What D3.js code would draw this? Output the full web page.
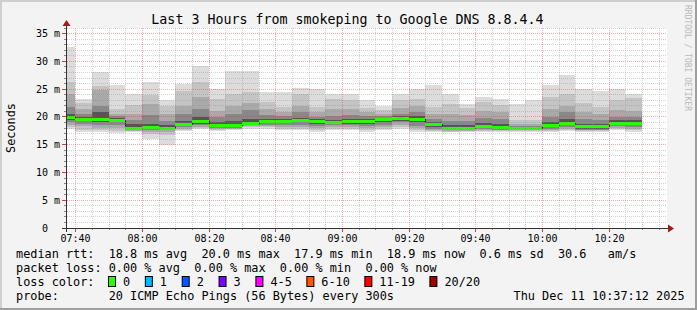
<!DOCTYPE html>
<html>
<head>
<meta charset="utf-8">
<script src="https://cdn.jsdelivr.net/npm/d3@7"></script>
<style>
  body { margin: 0; background: #f3f3f3; }
  svg text { font-family: "DejaVu Sans Mono", monospace; white-space: pre; }
</style>
</head>
<body>
<svg id="chart" width="697" height="310"></svg>
<script>
// 5 minute slots (start time of each step)
const slotStart = ["07:35","07:40","07:45","07:50","07:55","08:00","08:05","08:10","08:15","08:20",
  "08:25","08:30","08:35","08:40","08:45","08:50","08:55","09:00","09:05","09:10",
  "09:15","09:20","09:25","09:30","09:35","09:40","09:45","09:50","09:55","10:00",
  "10:05","10:10","10:15","10:20","10:25"];

// median rtt (ms)
const medianMs = [20.0,19.56,19.6,19.44,18.0,18.1,18.0,18.66,19.2,18.54,18.54,18.96,19.2,19.26,19.44,19.26,19.14,19.26,19.32,19.56,
  19.8,19.62,18.78,17.94,18.0,18.3,18.18,17.94,17.94,18.54,18.96,18.3,18.36,18.96,18.92];

// smoke: sorted ping levels, outermost (1) to innermost (5)
const pingHi1 = [32.6,23.2,28.0,25.7,24.2,26.2,23.0,26.0,29.2,25.1,28.3,28.3,24.5,24.5,25.2,25.0,24.1,24.1,23.1,22.0,24.1,25.0,25.7,24.1,22.3,23.6,23.2,22.3,23.0,25.7,27.5,25.1,24.7,25.0,24.2];
const pingHi2 = [26.3,22.5,25.6,21.5,22.1,24.0,22.0,24.6,26.2,23.3,24.2,24.5,22.7,21.8,24.2,21.8,23.3,23.0,21.6,21.2,23.0,23.3,21.8,22.4,21.6,22.7,22.1,19.4,19.5,23.6,24.2,22.5,21.8,23.0,23.4];
const pingHi3 = [24.2,21.4,24.8,20.6,20.5,22.3,20.5,22.0,23.5,21.0,22.0,22.5,21.5,20.9,22.0,20.8,21.5,21.5,20.8,20.6,21.6,22.0,20.5,20.5,20.3,21.0,20.8,18.8,18.8,21.5,22.0,20.8,20.6,21.3,21.0];
const pingHi4 = [21.8,20.5,22.0,20.1,19.5,20.3,19.3,20.5,21.5,20.0,20.5,21.3,20.3,20.1,20.8,20.0,20.2,20.3,20.1,20.1,20.6,20.8,19.6,19.3,19.2,19.8,19.6,18.4,18.4,20.0,20.8,19.6,19.5,20.0,20.0];
const pingHi5 = [20.5,19.9,20.9,19.8,18.7,18.8,18.5,19.2,20.0,19.0,19.2,19.7,19.6,19.6,19.8,19.6,19.5,19.7,19.7,19.8,20.2,20.1,19.1,18.5,18.5,18.9,18.8,18.1,18.1,19.0,19.6,18.8,18.8,19.4,19.4];
const pingLo5 = [19.5,19.2,19.0,19.0,17.8,17.8,17.8,18.3,18.8,18.2,18.2,18.7,18.9,18.9,19.0,18.8,18.8,18.8,18.8,19.0,19.3,19.0,18.1,17.7,17.8,18.0,17.9,17.8,17.8,18.1,18.5,17.9,17.9,18.6,18.6];
const pingLo4 = [19.0,18.8,18.6,18.5,17.6,17.6,17.6,18.1,18.5,18.0,18.0,18.5,18.6,18.5,18.6,18.4,18.5,18.5,18.4,18.6,19.0,18.4,17.8,17.6,17.7,17.8,17.7,17.7,17.7,17.9,18.2,17.7,17.7,18.3,18.2];
const pingLo3 = [18.5,18.3,18.0,18.0,17.5,17.3,17.3,17.9,18.2,17.9,17.9,18.3,18.3,18.2,18.2,18.0,18.2,18.2,18.0,18.2,18.6,18.0,17.6,17.5,17.5,17.6,17.6,17.6,17.6,17.7,17.9,17.6,17.6,18.0,17.9];
const pingLo2 = [18.1,17.6,17.6,17.5,17.4,17.0,16.8,17.7,18.0,17.7,17.8,18.1,18.1,17.9,17.9,17.6,17.9,17.9,17.6,17.9,18.2,17.6,17.4,17.3,17.4,17.5,17.4,17.4,17.4,17.5,17.7,17.4,17.4,17.8,17.6];
const pingLo1 = [17.8,17.2,17.3,17.1,17.3,16.0,14.9,17.5,17.8,17.5,17.6,17.9,17.9,17.6,17.6,17.3,17.6,17.6,17.3,17.6,17.9,17.3,17.2,17.2,17.3,17.3,17.3,17.3,17.3,17.3,17.5,17.3,17.3,17.6,17.3];

const xTickLabels = ["07:40","08:00","08:20","08:40","09:00","09:20","09:40","10:00","10:20"];
const yTickValues = [0,5,10,15,20,25,30,35];
const yTickLabels = ["0  ","5 m","10 m","15 m","20 m","25 m","30 m","35 m"];

const lossLabels = ["0","1","2","3","4-5","6-10","11-19","20/20"];
const lossColors = ["#26ff00","#00b8ff","#0059ff","#7e00ff","#ff00ff","#ff5500","#ff0000","#a10000"];

const titleText = "Last 3 Hours from smokeping to Google DNS 8.8.4.4";
const rttRow = "median rtt:  18.8 ms avg  20.0 ms max  17.9 ms min  18.9 ms now  0.6 ms sd  30.6   am/s";
const lossRow = "packet loss: 0.00 % avg  0.00 % max  0.00 % min  0.00 % now";
const probeRow = "probe:       20 ICMP Echo Pings (56 Bytes) every 300s";
const stampText = "Thu Dec 11 10:37:12 2025";

const W = 697, H = 310;
const svg = d3.select("#chart");
const parseHM = d3.timeParse("%H:%M");
const parseHMS = d3.timeParse("%H:%M:%S");

const x = d3.scaleTime().domain([parseHMS("07:37:12"), parseHMS("10:37:12")]).range([66, 666]);
const y = d3.scaleLinear().domain([0, 36]).range([228, 28]);
const px = v => Math.round(x(v));
const py = v => Math.round(y(v));

// frame
svg.append("rect").attr("width", W).attr("height", H).attr("fill", "#f3f3f3");
svg.append("rect").attr("x", 0).attr("y", 0).attr("width", W).attr("height", 2).attr("fill", "#cfcfcf");
svg.append("rect").attr("x", 0).attr("y", 0).attr("width", 2).attr("height", H).attr("fill", "#cfcfcf");
svg.append("rect").attr("x", 0).attr("y", H - 2).attr("width", W).attr("height", 2).attr("fill", "#9e9e9e");
svg.append("rect").attr("x", W - 2).attr("y", 0).attr("width", 2).attr("height", H).attr("fill", "#9e9e9e");

// canvas
svg.append("rect").attr("x", 66).attr("y", 28).attr("width", 601).attr("height", 200).attr("fill", "#ffffff");

svg.append("clipPath").attr("id", "plot").append("rect")
  .attr("x", 67).attr("y", 28).attr("width", 600).attr("height", 200);

const slots = slotStart.map(parseHM);
const slotEnd = slots.map(d => d3.timeMinute.offset(d, 5));

// smoke bands, outermost first
const bands = [
  {hi: pingHi1, lo: pingLo1, color: "#dcdcdc"},
  {hi: pingHi2, lo: pingLo2, color: "#c4c4c4"},
  {hi: pingHi3, lo: pingLo3, color: "#a9a9a9"},
  {hi: pingHi4, lo: pingLo4, color: "#888888"},
  {hi: pingHi5, lo: pingLo5, color: "#555555"}
];
const plot = svg.append("g").attr("clip-path", "url(#plot)").attr("shape-rendering", "crispEdges");
bands.forEach((b, j) => {
  plot.selectAll("rect.band" + j)
    .data(slots)
    .enter().append("rect")
      .attr("class", "band" + j)
      .attr("x", (d, i) => px(d))
      .attr("width", (d, i) => px(slotEnd[i]) - px(d))
      .attr("y", (d, i) => py(b.hi[i]))
      .attr("height", (d, i) => py(b.lo[i]) - py(b.hi[i]))
      .attr("fill", b.color);
});

// median: dark staircase then green loss colour
const stepPts = [];
slots.forEach((d, i) => {
  stepPts.push([px(d), py(medianMs[i]) + 0.5]);
  stepPts.push([px(slotEnd[i]), py(medianMs[i]) + 0.5]);
});
plot.append("path")
  .attr("d", d3.line()(stepPts))
  .attr("fill", "none")
  .attr("stroke", "#202020")
  .attr("stroke-width", 1);
plot.selectAll("rect.median")
  .data(slots)
  .enter().append("rect")
    .attr("class", "median")
    .attr("x", (d, i) => px(d))
    .attr("width", (d, i) => px(slotEnd[i]) - px(d))
    .attr("y", (d, i) => py(medianMs[i]) - 1)
    .attr("height", 3)
    .attr("fill", lossColors[0]);

// grid on top
const grid = svg.append("g");
const minorC = "rgba(143,143,143,0.4)", majorC = "rgba(222,48,48,0.4)";
const vTimes = d3.timeMinute.every(5).range(x.domain()[0], x.domain()[1]);
vTimes.forEach(t => {
  const major = t.getMinutes() % 20 === 0;
  const gx = px(t) + 0.5;
  grid.append("line").attr("x1", gx).attr("x2", gx).attr("y1", 28).attr("y2", 228)
    .attr("stroke", major ? majorC : minorC).attr("stroke-dasharray", "1,1");
  grid.append("line").attr("x1", gx).attr("x2", gx).attr("y1", 228).attr("y2", major ? 232 : 230)
    .attr("stroke", major ? "#d04040" : "#888");
});
d3.range(1, 37).forEach(v => {
  const major = v % 5 === 0;
  const gy = Math.floor(y(v)) + 0.5;
  grid.append("line").attr("x1", 67).attr("x2", 667).attr("y1", gy).attr("y2", gy)
    .attr("stroke", major ? majorC : minorC).attr("stroke-dasharray", "1,1");
  grid.append("line").attr("x1", major ? 62 : 64).attr("x2", 66).attr("y1", gy).attr("y2", gy)
    .attr("stroke", major ? "#d04040" : "#888");
});

// axes lines + arrows
svg.append("line").attr("x1", 62).attr("x2", 669).attr("y1", 228.5).attr("y2", 228.5).attr("stroke", "#333");
svg.append("line").attr("x1", 66.5).attr("x2", 66.5).attr("y1", 232).attr("y2", 24).attr("stroke", "#333");
svg.append("path").attr("d", "M668,224.5L674,228.5L668,232.5Z").attr("fill", "#9b1c1c");
svg.append("path").attr("d", "M62.5,26L66.5,20L70.5,26Z").attr("fill", "#9b1c1c");

// tick labels through d3 axes
const xTickTimes = xTickLabels.map(parseHM);
const xAxis = d3.axisBottom(x).tickValues(xTickTimes).tickFormat((d, i) => xTickLabels[i]).tickSize(0).tickPadding(7);
const gx = svg.append("g").attr("transform", "translate(0,228)").call(xAxis);
const yAxis = d3.axisLeft(y).tickValues(yTickValues).tickFormat((d, i) => yTickLabels[i]).tickSize(0).tickPadding(6);
const gy = svg.append("g").attr("transform", "translate(66,0)").call(yAxis);
[gx, gy].forEach(g => {
  g.select(".domain").remove();
  g.attr("font-family", "DejaVu Sans Mono").attr("font-size", 10);
  g.selectAll("text").attr("fill", "#000").attr("xml:space", "preserve");
});
gy.selectAll(".tick").attr("transform", d => "translate(0," + (Math.floor(y(d)) + 0.5) + ")");
gx.selectAll(".tick").attr("transform", d => "translate(" + (px(d) + 0.5) + ",0)");

// title and side texts
svg.append("text").attr("x", 347.5).attr("y", 23.5).attr("text-anchor", "middle")
  .attr("font-size", 13.3).attr("fill", "#000").text(titleText);
svg.append("text").attr("transform", "translate(15,128) rotate(-90)").attr("text-anchor", "middle")
  .attr("font-size", 11.85).attr("fill", "#000").text("Seconds");
svg.append("text").attr("transform", "translate(684.5,5) rotate(90)")
  .attr("font-size", 8).attr("fill", "#b8b8b8").text("RRDTOOL / TOBI OETIKER");

// legend
const leg = svg.append("g").attr("font-size", 11.85).attr("fill", "#000");
leg.append("text").attr("x", 16).attr("y", 257.5).text(rttRow);
leg.append("text").attr("x", 16).attr("y", 271.5).text(lossRow);
leg.append("text").attr("x", 16).attr("y", 285.5).text("loss color:");
leg.append("text").attr("x", 16).attr("y", 299.5).text(probeRow);
leg.append("text").attr("x", 513.5).attr("y", 299.5).text(stampText);

let cursor = 108;
lossLabels.forEach((lab, i) => {
  leg.append("rect").attr("x", cursor + 0.5).attr("y", 276.5).attr("width", 7).attr("height", 10)
    .attr("fill", lossColors[i]).attr("stroke", "#000").attr("stroke-width", 1);
  leg.append("text").attr("x", cursor + 15).attr("y", 285.5).text(lab);
  cursor += 29.8 + lab.length * 7.05;
});
</script>
</body>
</html>
